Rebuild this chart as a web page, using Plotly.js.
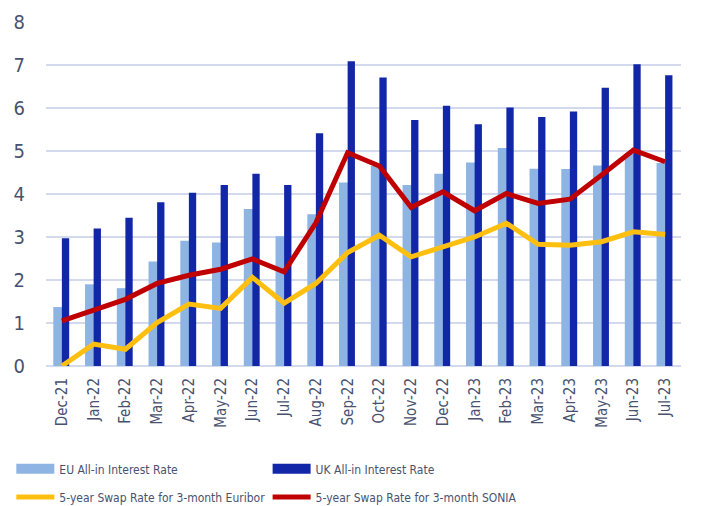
<!DOCTYPE html>
<html>
<head>
<meta charset="utf-8">
<script src="https://cdn.plot.ly/plotly-3.0.1.min.js"></script>
<style>html,body{margin:0;padding:0;background:#fff;}#chart{width:707px;height:506px;}</style>
</head>
<body>
<div id="chart"></div>
<script>
const months = ["Dec-21","Jan-22","Feb-22","Mar-22","Apr-22","May-22","Jun-22","Jul-22","Aug-22","Sep-22","Oct-22","Nov-22","Dec-22","Jan-23","Feb-23","Mar-23","Apr-23","May-23","Jun-23","Jul-23"];
const euAllIn = [1.37,1.90,1.81,2.43,2.91,2.87,3.65,3.02,3.53,4.27,4.65,4.21,4.47,4.73,5.07,4.59,4.58,4.66,4.94,4.72];
const ukAllIn = [2.97,3.20,3.45,3.81,4.03,4.21,4.47,4.21,5.41,7.09,6.71,5.72,6.05,5.62,6.01,5.79,5.92,6.47,7.02,6.76];
const euribor5y = [0.00,0.51,0.39,1.01,1.44,1.34,2.06,1.46,1.92,2.64,3.04,2.54,2.77,3.00,3.32,2.83,2.81,2.89,3.12,3.06];
const sonia5y = [1.05,1.30,1.55,1.92,2.11,2.25,2.49,2.19,3.33,4.96,4.65,3.69,4.05,3.61,4.01,3.78,3.88,4.44,5.02,4.75];
const yTicks = [0,1,2,3,4,5,6,7,8];

const FONT = "'DejaVu Sans Condensed', 'DejaVu Sans', sans-serif";
const TXT = "#48526F";
const LIGHT = "#8DB4E2", DARK = "#1226A8", RED = "#C00000", YEL = "#FFBF10";

const traces = [
  {type:"bar", x:months, y:euAllIn, name:"EU All-in Interest Rate", marker:{color:LIGHT}, offset:-0.27, width:0.30, showlegend:false},
  {type:"bar", x:months, y:ukAllIn, name:"UK All-in Interest Rate", marker:{color:DARK}, offset:0.0, width:0.23, showlegend:false},
  {type:"scatter", mode:"lines", x:months, y:euribor5y, name:"5-year Swap Rate for 3-month Euribor", line:{color:YEL, width:5}, showlegend:false},
  {type:"scatter", mode:"lines", x:months, y:sonia5y, name:"5-year Swap Rate for 3-month SONIA", line:{color:RED, width:5}, showlegend:false},
  // legend-only entries, one legend box each
  {type:"scatter", mode:"lines", x:[null], y:[null], name:"EU All-in Interest Rate", line:{color:LIGHT, width:12}, legend:"legend"},
  {type:"scatter", mode:"lines", x:[null], y:[null], name:"UK All-in Interest Rate", line:{color:DARK, width:12}, legend:"legend2"},
  {type:"scatter", mode:"lines", x:[null], y:[null], name:"5-year Swap Rate for 3-month Euribor", line:{color:YEL, width:5}, legend:"legend3"},
  {type:"scatter", mode:"lines", x:[null], y:[null], name:"5-year Swap Rate for 3-month SONIA", line:{color:RED, width:5}, legend:"legend4"}
];

const legendBase = {orientation:"h", xanchor:"left", yanchor:"middle", itemwidth:38, font:{size:12, color:TXT}, bgcolor:"rgba(0,0,0,0)"};
const col1 = -0.0546, col2 = 0.349, row1 = -0.299, row2 = -0.381;

const layout = {
  width:707, height:506,
  margin:{l:46, r:26, t:22, b:140, autoexpand:false},
  paper_bgcolor:"#fff", plot_bgcolor:"#fff",
  barmode:"overlay",
  font:{family:FONT, color:TXT},
  xaxis:{type:"category", tickangle:-90, tickfont:{size:15, color:TXT}, showgrid:false, zeroline:false, showline:false, ticks:"", ticklabelstandoff:8, automargin:false},
  yaxis:{range:[0,8], tickvals:yTicks, tickfont:{size:20, color:TXT}, gridcolor:"#D3DAEE", gridwidth:2, zeroline:true, zerolinecolor:"#D3DAEE", zerolinewidth:2, showline:false, ticks:"", ticklabelstandoff:20, automargin:false},
  showlegend:true,
  legend:Object.assign({}, legendBase, {x:col1, y:row1}),
  legend2:Object.assign({}, legendBase, {x:col2, y:row1}),
  legend3:Object.assign({}, legendBase, {x:col1, y:row2}),
  legend4:Object.assign({}, legendBase, {x:col2, y:row2})
};

Plotly.newPlot("chart", traces, layout, {displayModeBar:false, staticPlot:true});
</script>
</body>
</html>
